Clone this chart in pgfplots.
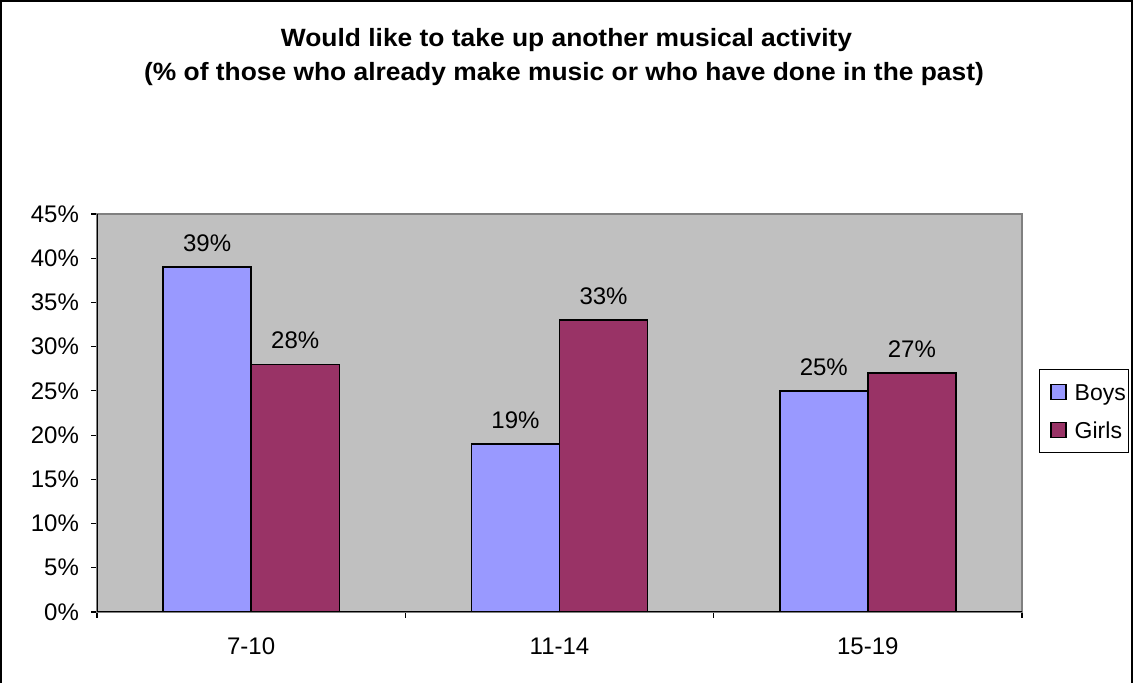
\documentclass[border=0pt]{standalone}
\usepackage{pgfplots}
\pgfplotsset{compat=1.18}
\usepackage{graphicx}
\usepackage{fontspec}
\setmainfont{Liberation Sans}
\definecolor{boys}{HTML}{9999FF}
\definecolor{girls}{HTML}{993366}
\definecolor{plotgray}{HTML}{C0C0C0}
\definecolor{bordergray}{HTML}{808080}
\begin{document}
\begin{tikzpicture}[x=1pt,y=1pt]
\useasboundingbox (0,0) rectangle (566.5,341.5);
\draw[line width=1pt] (0.5,0) -- (0.5,341) -- (565.8,341) -- (565.8,0);
\node[font=\fontsize{12.5}{15}\selectfont\bfseries] at (283.25,321.5) {\scalebox{1.055}[1]{Would like to take up another musical activity}};
\node[font=\fontsize{12.5}{15}\selectfont\bfseries] at (282,304.5) {\scalebox{1.055}[1]{(\% of those who already make music or who have done in the past)}};
\begin{axis}[
  at={(48.5pt,35.5pt)}, anchor=south west,
  scale only axis, width=462.5pt, height=199pt,
  /pgf/number format/assume math mode=true,
  ybar=0pt, bar width=0.2857,
  xmin=-0.5, xmax=2.5, ymin=0, ymax=45,
  enlargelimits=false,
  xtick={-0.5,0.5,1.5,2.5},
  x tick label as interval,
  xticklabels={7-10,11-14,15-19},
  ytick={0,5,...,45},
  yticklabel={\pgfmathprintnumber{\tick}\%},
  xtick pos=bottom, ytick pos=left,
  tick align=outside, major tick length=3pt,
  tick style={black, line width=0.6pt},
  axis line style={draw=bordergray, line width=0.9pt},
  axis background/.style={fill=plotgray},
  tick label style={font=\fontsize{12}{14.4}\selectfont, black},
  y tick label style={xshift=-2.5pt},
  x tick label style={yshift=-6.5pt},
  nodes near coords={\pgfmathprintnumber{\pgfplotspointmeta}\%},
  every node near coord/.append style={font=\fontsize{12}{14.4}\selectfont, black, yshift=4pt},
  legend style={at={(1.0184,0.505)}, anchor=west, draw=black, line width=0.6pt,
    font=\fontsize{11.5}{13.8}\selectfont, inner xsep=1.2pt, inner ysep=5.5pt, row sep=7.8pt,
    nodes={inner sep=0pt},
    legend cell align=left},
  legend image code/.code={\path (-4pt,0pt) (11.6pt,0pt);\draw[#1,draw=black,line width=0.75pt] (0pt,-3.75pt) rectangle (7.5pt,3.75pt);},
]
\addplot[fill=boys, draw=black, line width=0.75pt] coordinates {(0,39) (1,19) (2,25)};
\addplot[fill=girls, draw=black, line width=0.75pt] coordinates {(0,28) (1,33) (2,27)};
\legend{\strut Boys,\strut Girls}
\draw[black, line width=0.9pt] (rel axis cs:0,1) -- (rel axis cs:0,0) -- (rel axis cs:1,0);
\end{axis}
\end{tikzpicture}
\end{document}
